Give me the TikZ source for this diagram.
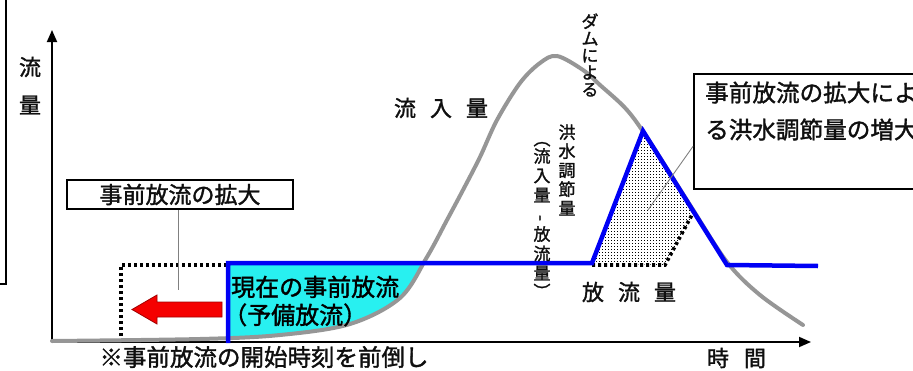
\documentclass[tikz,border=0pt]{standalone}
\usepackage{fontspec}
\setmainfont{Noto Sans CJK JP}[RawFeature={embolden=1.5}]
\usepackage{graphicx}
\usetikzlibrary{patterns,calc,arrows.meta}
\pgfdeclarepatternformonly{stipple}{\pgfpointorigin}{\pgfpoint{3.3pt}{3.3pt}}{\pgfpoint{3.3pt}{3.3pt}}{%
  \pgfpathrectangle{\pgfpointorigin}{\pgfpoint{1.2pt}{1.2pt}}\pgfusepath{fill}}
\definecolor{curvegray}{RGB}{150,150,150}
\definecolor{flowblue}{RGB}{0,0,245}
\definecolor{fillcyan}{RGB}{40,240,240}
\definecolor{arrowred}{RGB}{245,0,0}
\definecolor{arrowedge}{RGB}{160,0,0}
\definecolor{txt}{RGB}{15,15,15}
\begin{document}
\begin{tikzpicture}[x=1pt,y=-1pt,
  lbl/.style={inner sep=0pt, text=txt, font=\fontsize{22}{22}\selectfont},
  big/.style={inner sep=0pt, text=txt, font=\fontsize{23.5}{23.5}\selectfont},
  vert/.style={inner sep=0pt, text=txt, align=center},
  callout/.style={draw=black, line width=2.2pt, inner sep=0pt},
  leader/.style={draw=gray, line width=0.9pt},
  dotline/.style={draw=black, line width=3.6pt, dash pattern=on 3pt off 3pt},
  axis/.style={draw=black, line width=1.8pt, -{Triangle[length=12pt,width=10pt]}},
  inflowline/.style={draw=curvegray, line width=4pt, line cap=round},
  outflowline/.style={draw=flowblue, line width=4.5pt, line join=miter},
  arrowbody/.style={fill=arrowred, draw=arrowedge, line width=0.8pt}
]
\useasboundingbox (0,0) rectangle (913,370);
\clip (0,0) rectangle (913,370);

% left frame fragment
\draw[line width=2.6pt] (6,0) -- (6,284) -- (0,284);

% cyan area (current pre-release)
\begin{scope}
  \clip plot[smooth,tension=0.55] coordinates {(52,341) (200,339) (280,335) (350,324) (400,298) (427,257) (447,220) (463,190) (480,157) (497,120) (520,83) (540,63) (557,56) (583,70) (600,85) (627,110) (650,142) (690,205) (727,262) (760,295) (803,325)} -- (803,0) -- (52,0) -- cycle;
  \fill[fillcyan] (228,263) rectangle (445,343);
\end{scope}

% stippled area
\fill[pattern=stipple] (592,263) -- (643,131) -- (695,213) -- (665,265) -- cycle;

% dotted lines
\draw[dotline] (121,342) -- (121,265) -- (228,265);
\draw[dotline] (592,265) -- (665,265) -- (694,211);

% axes
\coordinate (O) at (52,342);
\coordinate (ytip) at (52,30);
\coordinate (xtip) at (811,342);
\draw[axis] (O) -- (ytip);
\draw[axis] (O) -- (xtip);

% inflow curve
\draw[inflowline] plot[smooth,tension=0.55] coordinates {(52,341) (200,339) (280,335) (350,324) (400,298) (427,257) (447,220) (463,190) (480,157) (497,120) (520,83) (540,63) (557,56) (583,70) (600,85) (627,110) (650,142) (690,205) (727,262) (760,295) (803,325)};

% outflow line
\draw[outflowline] (228,343) -- (228,263) -- (592,263) -- (643,131) -- (727,265) -- (818,266);

% red arrow
\draw[arrowbody] (222,302) -- (157,302) -- (157,295) -- (132,309.5) -- (157,324) -- (157,317) -- (222,317) -- cycle;

% axis labels
\node[lbl] (yl1) at (30,67) {流};
\node[lbl] (yl2) at (30,105) {量};
\node[lbl] (inl) at (441,108) {流\hspace{14pt}入\hspace{14pt}量};
\node[lbl] (outl) at (629,292) {放\hspace{14pt}流\hspace{14pt}量};
\node[lbl] (tl) at (736.5,358) {時\hspace{15pt}間};

% vertical labels
\node[vert, font=\fontsize{17}{17}\selectfont] (dam) at (590,55) {ダ\\ム\\に\\よ\\る};
\node[vert, font=\fontsize{17}{19}\selectfont] (cc) at (567,170) {洪\\水\\調\\節\\量};
\node[vert, font=\fontsize{17}{19.5}\selectfont, anchor=north] (cc2) at (542,130) {\rotatebox{-90}{（}\\流\\入\\量\\\rotatebox{90}{-}\\放\\流\\量\\[-16pt]\rotatebox{-90}{）}};

% current pre-release text
\node[inner sep=0pt, text=black, font=\fontsize{24}{24}\selectfont, anchor=base west] (cur1) at (231,296) {現在の事前放流};
\node[inner sep=0pt, text=black, font=\fontsize{24}{24}\selectfont, anchor=base west] (cur2) at (223,324) {（予備放流）};

% bottom note
\node[big] (note) at (264,357) {※事前放流の開始時刻を前倒し};

% left callout
\node[callout, minimum width=226pt, minimum height=29pt, font=\fontsize{23}{23}\selectfont, text=txt] (lbox) at (180,194.5) {事前放流の拡大};
\coordinate (ltip) at (178,290);
\draw[leader] (lbox.south -| ltip) -- (ltip);

% right callout
\node[callout, anchor=north west, minimum width=240pt, minimum height=115pt] (rbox) at (693,73) {};
\node[inner sep=0pt, text=txt, font=\fontsize{23.6}{23.6}\selectfont, anchor=base west] (rt1) at (705,101.5) {事前放流の拡大によ};
\node[inner sep=0pt, text=txt, font=\fontsize{23.6}{23.6}\selectfont, anchor=base west] (rt2) at (705,138.5) {る洪水調節量の増大};
\coordinate (rtip) at (648,210);
\draw[leader] ($(rbox.north west)!0.626!(rbox.south west)$) -- (rtip);
\end{tikzpicture}
\end{document}
